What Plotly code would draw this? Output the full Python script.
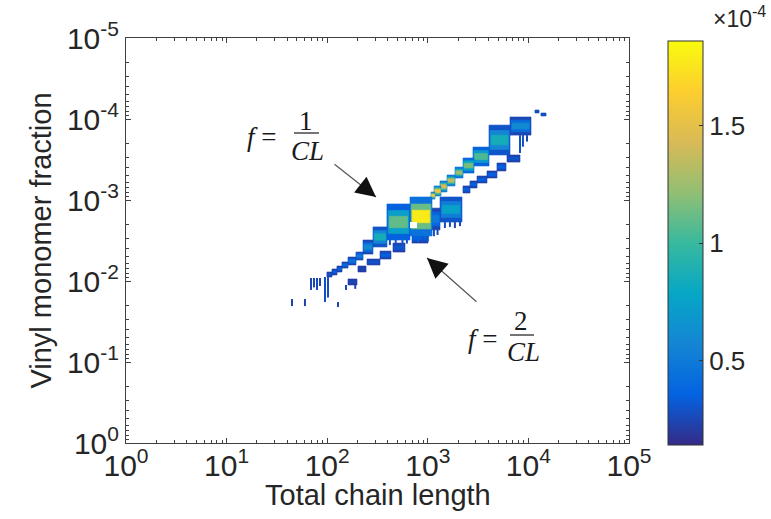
import math
import plotly.graph_objects as go

# ---------------------------------------------------------------
# Binned chain population (colour value in units of 1e-4)
# Each bin: chain-length range, vinyl-fraction range, core value,
# value at the bin edge.
# ---------------------------------------------------------------
# band f ~ 1/CL
one_cl_lo = [11640, 13340, 6563, 4059, 2813, 2239, 1864, 1552, 1322, 1153, 1076,
             665, 392.6, 285.1, 227.0, 193.2, 161.0, 140.3, 125.1, 111.6, 99.5]
one_cl_hi = [12740, 14960, 10620, 6563, 4059, 2879, 2239, 1864, 1552, 1352, 1180,
             1101, 665, 392.6, 285.1, 227.0, 193.2, 161.0, 140.3, 125.1, 111.6]
one_f_lo = [7.74e-5, 8.43e-5, 9.44e-5, 1.19e-4, 2.22e-4, 3.03e-4, 3.92e-4, 4.91e-4,
            5.82e-4, 6.71e-4, 7.96e-4, 9.18e-4, 1.12e-3, 2.15e-3, 3.12e-3, 4.39e-3,
            5.06e-3, 5.82e-3, 6.53e-3, 7.11e-3, 7.74e-3]
one_f_hi = [8.43e-5, 9.18e-5, 1.58e-4, 2.78e-4, 3.80e-4, 4.65e-4, 5.35e-4, 6.71e-4,
            7.96e-4, 8.93e-4, 9.73e-4, 2.78e-3, 3.12e-3, 3.80e-3, 4.65e-3, 5.51e-3,
            6.34e-3, 6.92e-3, 7.74e-3, 8.43e-3, 8.93e-3]
one_core = [0.30, 0.30, 0.60, 0.85, 1.05, 1.15, 1.25, 1.35, 1.45, 1.55, 1.60,
            1.78, 1.10, 0.85, 0.60, 0.50, 0.45, 0.40, 0.38, 0.35, 0.30]
one_edge = [0.25, 0.25, 0.25, 0.30, 0.35, 0.40, 0.45, 0.50, 0.50, 0.55, 0.55,
            0.45, 0.35, 0.30, 0.25, 0.25, 0.22, 0.22, 0.20, 0.20, 0.20]

# band f ~ 2/CL
two_cl_lo = [6125, 4872, 3875, 3085, 2626, 2239, 1322, 1076, 697, 450.8, 335.0, 248.9, 202.3, 161.0]
two_cl_hi = [8255, 5986, 4872, 3875, 3085, 2626, 2188, 1322, 1005, 593.0, 430.5, 335.0, 243.2, 197.7]
two_f_lo = [2.78e-4, 3.49e-4, 4.38e-4, 5.06e-4, 5.82e-4, 6.71e-4, 9.18e-4, 1.26e-3,
            2.55e-3, 3.40e-3, 4.27e-3, 5.35e-3, 6.53e-3, 9.44e-3]
two_f_hi = [3.40e-4, 4.38e-4, 5.35e-4, 6.17e-4, 7.11e-4, 8.20e-4, 1.87e-3, 2.34e-3,
            3.40e-3, 4.39e-3, 5.35e-3, 6.34e-3, 7.74e-3, 1.12e-2]
two_core = [0.30, 0.35, 0.35, 0.35, 0.35, 0.35, 0.75, 0.50, 0.35, 0.32, 0.35, 0.30, 0.25, 0.25]
two_edge = [0.22, 0.22, 0.22, 0.22, 0.22, 0.22, 0.30, 0.25, 0.22, 0.22, 0.22, 0.22, 0.20, 0.20]

# empty bins inside the largest block
gap_cl_lo = [665]
gap_cl_hi = [781]
gap_f_lo = [1.87e-3]
gap_f_hi = [2.22e-3]

# sparse single-length populations (thin vertical streaks)
drip_cl = [8255, 8830, 9690, 720, 800, 900, 1000, 420, 480, 560, 620,
           1480, 1660, 1860, 2090, 1150, 1250,
           69.0, 73.9, 79.2, 84.8, 95.1, 101.8, 44.7, 60.1, 128.0, 153.8, 190.0]
drip_f_top = [1.58e-4, 1.58e-4, 1.58e-4, 2.78e-3, 2.78e-3, 2.78e-3, 2.78e-3,
              3.12e-3, 3.12e-3, 3.12e-3, 3.12e-3,
              1.87e-3, 1.87e-3, 1.87e-3, 1.87e-3, 2.34e-3, 2.34e-3,
              9.18e-3, 9.18e-3, 9.18e-3, 9.18e-3, 8.93e-3, 8.93e-3,
              1.67e-2, 1.67e-2, 1.82e-2, 1.12e-2, 1.12e-2]
drip_f_bot = [2.63e-4, 2.20e-4, 1.90e-4, 3.20e-3, 3.30e-3, 3.10e-3, 3.25e-3,
              3.60e-3, 3.50e-3, 3.70e-3, 3.45e-3,
              2.22e-3, 2.15e-3, 2.22e-3, 2.10e-3, 2.80e-3, 2.70e-3,
              1.29e-2, 1.20e-2, 1.29e-2, 1.15e-2, 1.82e-2, 1.60e-2,
              2.04e-2, 2.04e-2, 2.09e-2, 1.29e-2, 1.25e-2]
drip_val = [0.30, 0.28, 0.25, 0.35, 0.35, 0.30, 0.30, 0.30, 0.30, 0.28, 0.28,
            0.28, 0.28, 0.25, 0.25, 0.28, 0.25,
            0.25, 0.25, 0.25, 0.25, 0.28, 0.28, 0.22, 0.22, 0.22, 0.25, 0.25]

x_tick_vals = [1, 10, 100, 1000, 10000, 100000]
x_tick_text = ["10<sup>0</sup>", "10<sup>1</sup>", "10<sup>2</sup>",
               "10<sup>3</sup>", "10<sup>4</sup>", "10<sup>5</sup>"]
y_tick_vals = [1e-5, 1e-4, 1e-3, 1e-2, 1e-1, 1]
y_tick_text = ["10<sup>-5</sup>", "10<sup>-4</sup>", "10<sup>-3</sup>",
               "10<sup>-2</sup>", "10<sup>-1</sup>", "10<sup>0</sup>"]
cbar_tick_vals = [0.5, 1.0, 1.5]
cbar_tick_text = ["0.5", "1", "1.5"]

CMIN, CMAX = 0.14, 1.86

PARULA = [
    [0.000, "#352a87"], [0.125, "#0363e1"], [0.250, "#1485d4"],
    [0.375, "#06a7c6"], [0.500, "#38b99e"], [0.625, "#92bf73"],
    [0.750, "#d9ba56"], [0.875, "#fcce2e"], [1.000, "#f9fb0e"],
]


def value_color(v):
    t = min(max((v - CMIN) / (CMAX - CMIN), 0.0), 1.0)
    for (t0, c0), (t1, c1) in zip(PARULA[:-1], PARULA[1:]):
        if t <= t1:
            a = (t - t0) / (t1 - t0)
            r0, g0, b0 = (int(c0[i:i + 2], 16) for i in (1, 3, 5))
            r1, g1, b1 = (int(c1[i:i + 2], 16) for i in (1, 3, 5))
            return "rgb(%d,%d,%d)" % (round(r0 + a * (r1 - r0)),
                                      round(g0 + a * (g1 - g0)),
                                      round(b0 + a * (b1 - b0)))
    return PARULA[-1][1]


def box(x0, x1, y0, y1, hin, vin):
    """Closed rectangle outline, inset by a fraction of its log width/height."""
    lx0, lx1 = math.log10(x0), math.log10(x1)
    ly0, ly1 = math.log10(y0), math.log10(y1)
    dx, dy = (lx1 - lx0) * hin, (ly1 - ly0) * vin
    ax, bx = 10 ** (lx0 + dx), 10 ** (lx1 - dx)
    ay, by = 10 ** (ly0 + dy), 10 ** (ly1 - dy)
    return [ax, bx, bx, ax, ax], [ay, ay, by, by, ay]


fig = go.Figure()

# shading layers: (horizontal inset, vertical inset, blend edge->core)
layers = [(0.0, 0.0, 0.0), (0.05, 0.18, 0.5), (0.10, 0.34, 1.0)]


def add_bins(cl_lo, cl_hi, f_lo, f_hi, core, edge):
    for i in range(len(cl_lo)):
        for hin, vin, mix in layers:
            xs, ys = box(cl_lo[i], cl_hi[i], f_lo[i], f_hi[i], hin, vin)
            v = edge[i] + (core[i] - edge[i]) * mix
            fig.add_trace(go.Scatter(
                x=xs, y=ys, mode="lines", fill="toself",
                fillcolor=value_color(v), line=dict(width=0.6, color=value_color(v)),
                hoverinfo="skip", showlegend=False))


add_bins(two_cl_lo, two_cl_hi, two_f_lo, two_f_hi, two_core, two_edge)
add_bins(one_cl_lo, one_cl_hi, one_f_lo, one_f_hi, one_core, one_edge)

for i in range(len(gap_cl_lo)):
    xs, ys = box(gap_cl_lo[i], gap_cl_hi[i], gap_f_lo[i], gap_f_hi[i], 0, 0)
    fig.add_trace(go.Scatter(x=xs, y=ys, mode="lines", fill="toself",
                             fillcolor="white", line=dict(width=0),
                             hoverinfo="skip", showlegend=False))

for i in range(len(drip_cl)):
    fig.add_trace(go.Scatter(
        x=[drip_cl[i], drip_cl[i]], y=[drip_f_top[i], drip_f_bot[i]],
        mode="lines", line=dict(width=2, color=value_color(drip_val[i])),
        hoverinfo="skip", showlegend=False))

SANS = "Arial, Liberation Sans"

# colour scale carrier
fig.add_trace(go.Scatter(
    x=[1000], y=[1e-3], mode="markers", showlegend=False, hoverinfo="skip",
    marker=dict(size=1, opacity=0, color=[CMIN], cmin=CMIN, cmax=CMAX,
                colorscale=PARULA, showscale=True,
                colorbar=dict(
                    thickness=35, thicknessmode="pixels",
                    len=404, lenmode="pixels",
                    x=(668 - 126) / 503, xanchor="left",
                    y=(443 - 41) / 405, yanchor="top",
                    xpad=0, ypad=0,
                    outlinewidth=1, outlinecolor="#333333",
                    tickmode="array", tickvals=cbar_tick_vals, ticktext=cbar_tick_text,
                    ticks="inside", ticklen=4, tickcolor="#333333",
                    tickfont=dict(family=SANS, size=26, color="#262626"),
                ))))

TICK_FONT = dict(family=SANS, size=30, color="#262626")
TITLE_FONT = dict(family=SANS, size=29, color="#262626")
minor_x = [m * 10 ** d for d in range(0, 5) for m in range(2, 10)]
minor_y = [m * 10 ** d for d in range(-5, 0) for m in range(2, 10)]

fig.update_xaxes(
    type="log", range=[0, 5], tickmode="array",
    tickvals=x_tick_vals, ticktext=x_tick_text,
    ticks="inside", ticklen=5, tickcolor="#404040",
    minor=dict(tickmode="array", tickvals=minor_x, ticks="inside", ticklen=3,
               tickcolor="#404040"),
    showline=True, linecolor="#404040", linewidth=1, mirror="ticks",
    showgrid=False, zeroline=False, tickfont=TICK_FONT, ticklabelstandoff=-4,
)
fig.update_yaxes(
    type="log", range=[0, -5], tickmode="array",
    tickvals=y_tick_vals, ticktext=y_tick_text,
    ticks="inside", ticklen=5, tickcolor="#404040",
    minor=dict(tickmode="array", tickvals=minor_y, ticks="inside", ticklen=3,
               tickcolor="#404040"),
    showline=True, linecolor="#404040", linewidth=1, mirror="ticks",
    showgrid=False, zeroline=False, tickfont=TICK_FONT,
    title=dict(text="Vinyl monomer fraction", font=TITLE_FONT, standoff=6),
)


def px(xp):
    return (xp - 126) / 503


def py(yp):
    return (443 - yp) / 405


# x-axis title, sitting close under the tick labels
fig.add_annotation(text="Total chain length", x=0.5, y=py(495), xref="paper", yref="paper",
                   showarrow=False, xanchor="center", yanchor="middle", font=TITLE_FONT)

SERIF = dict(family="Liberation Serif, Times New Roman", size=27, color="#1a1a1a")
notes = [
    ("<i>f</i> =", 262, 137),
    ("1", 306, 121),
    ("<i>CL</i>", 307, 151),
    ("<i>f</i> =", 483, 339),
    ("2", 521, 321),
    ("<i>CL</i>", 523, 352),
]
for txt, xx, yy in notes:
    fig.add_annotation(text=txt, x=px(xx), y=py(yy), xref="paper", yref="paper",
                       showarrow=False, font=SERIF, xanchor="center", yanchor="middle")

# fraction bars
for x0, x1, yy in [(294, 319, 133), (510, 534, 335)]:
    fig.add_shape(type="line", xref="paper", yref="paper",
                  x0=px(x0), x1=px(x1), y0=py(yy), y1=py(yy),
                  line=dict(color="#1a1a1a", width=1.2))

# pointer arrows: grey shaft plus dark head (tail offsets in pixels)
for (tx, ty), (hx, hy) in [((333, 163), (376, 197)), ((478, 303), (427, 258))]:
    fig.add_annotation(x=px(hx), y=py(hy), ax=tx - hx, ay=ty - hy,
                       xref="paper", yref="paper", axref="pixel", ayref="pixel",
                       text="", showarrow=True, arrowhead=0, arrowwidth=1.2,
                       arrowcolor="#555555")
    fig.add_annotation(x=px(hx), y=py(hy), ax=(tx - hx) * 0.28, ay=(ty - hy) * 0.28,
                       xref="paper", yref="paper", axref="pixel", ayref="pixel",
                       text="", showarrow=True, arrowhead=2, arrowsize=1.6,
                       arrowwidth=2.5, arrowcolor="#111111")

fig.add_annotation(text="×10<sup>-4</sup>", x=px(711), y=py(17), xref="paper", yref="paper",
                   showarrow=False, xanchor="left", yanchor="middle",
                   font=dict(family=SANS, size=23, color="#262626"))

fig.update_layout(
    width=771, height=519,
    margin=dict(l=126, r=142, t=38, b=76, autoexpand=False),
    paper_bgcolor="white", plot_bgcolor="white",
    showlegend=False,
)

fig.write_html("out.html")
